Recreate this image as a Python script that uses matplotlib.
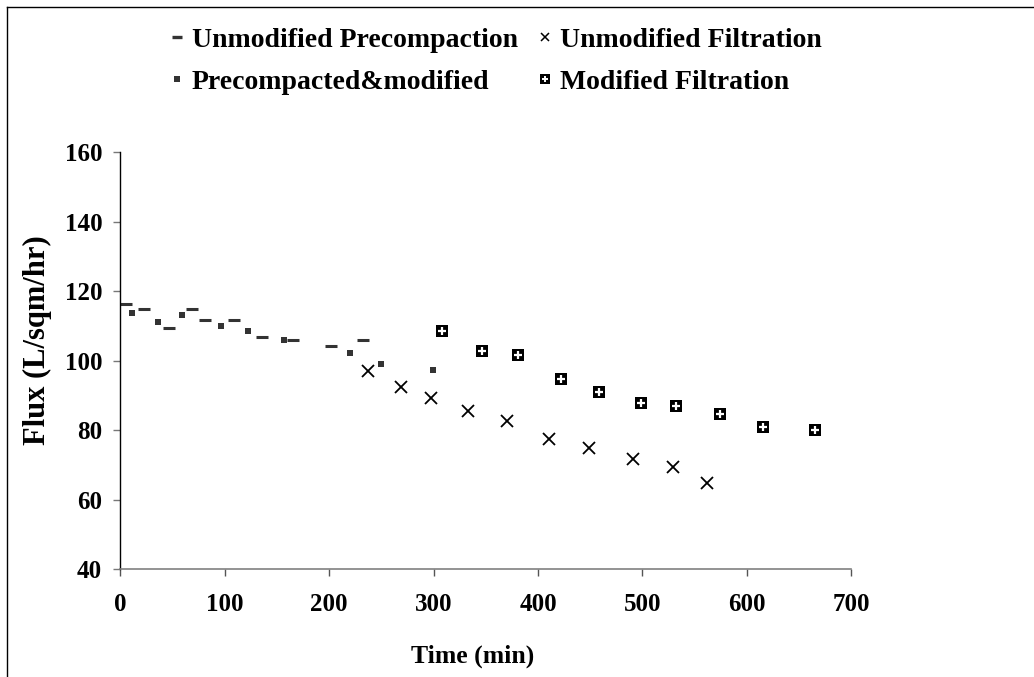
import matplotlib
matplotlib.use('Agg')

import matplotlib.pyplot as plt
from matplotlib.lines import Line2D
from matplotlib.legend_handler import HandlerTuple

plt.rcParams['font.family'] = ['Liberation Serif', 'DejaVu Serif']
plt.rcParams['font.weight'] = 'bold'

# data
unmod_pre_t = [5.5, 23, 47, 69, 81, 109, 135.5, 165, 202, 232]
unmod_pre_flux = [116.4, 114.8, 109.5, 114.8, 111.7, 111.7, 106.9, 105.9, 104.3, 105.9]

premod_t = [11.5, 36, 59, 96, 122, 157, 220, 250, 299]
premod_flux = [113.8, 111.1, 113.3, 110.1, 108.5, 105.9, 102.2, 99.0, 97.4]

unmod_filt_t = [237, 268.5, 298, 333, 370, 410.5, 449, 491, 529.5, 561.5]
unmod_filt_flux = [97.2, 92.4, 89.2, 85.5, 82.8, 77.6, 74.8, 71.7, 69.5, 64.7]

mod_filt_t = [308.5, 346.5, 381, 422, 458.5, 499, 532.5, 574.5, 615, 665.5]
mod_filt_flux = [108.6, 102.8, 101.8, 94.8, 90.9, 87.8, 87.0, 84.7, 81.0, 80.1]

xticks = [0, 100, 200, 300, 400, 500, 600, 700]
yticks = [40, 60, 80, 100, 120, 140, 160]

W, H = 1034, 677
fig = plt.figure(figsize=(W / 100, H / 100), dpi=100)
ax = fig.add_axes([120.3 / W, 1 - 569.3 / H, (851.3 - 120.3) / W, (569.3 - 152.3) / H])

dark = '#333333'
ax.plot(unmod_pre_t, unmod_pre_flux, ls='none', marker='_', ms=8.9, mew=2.2,
        color=dark, clip_on=False)
ax.plot(premod_t, premod_flux, ls='none', marker='s', ms=5, mew=0,
        color=dark, clip_on=False)
ax.plot(unmod_filt_t, unmod_filt_flux, ls='none', marker='x', ms=9, mew=1.3,
        color='black')
ax.plot(mod_filt_t, mod_filt_flux, ls='none', marker='s', ms=9, mew=0,
        color='black')
ax.plot(mod_filt_t, mod_filt_flux, ls='none', marker='+', ms=5.5, mew=1.6,
        color='white')

ax.set_xlim(0, 700)
ax.set_ylim(40, 160)
ax.set_xticks(xticks)
ax.set_yticks(yticks)
ax.tick_params(axis='both', direction='out', length=5, width=1,
               labelsize=18)
ax.tick_params(axis='x', colors='#555555', labelcolor='black', pad=12)
ax.tick_params(axis='y', colors='#777777', labelcolor='black', pad=8)
for lab in ax.get_xticklabels() + ax.get_yticklabels():
    lab.set_fontweight('bold')

ax.spines['top'].set_visible(False)
ax.spines['right'].set_visible(False)
ax.spines['left'].set_color('black')
ax.spines['left'].set_linewidth(1)
ax.spines['bottom'].set_color('#808080')
ax.spines['bottom'].set_linewidth(1.2)

ax.set_xlabel('Time (min)', fontsize=18.5, fontweight='bold')
ax.xaxis.set_label_coords((472.5 - 120.3) / (851.3 - 120.3), -(656 - 569.3) / (569.3 - 152.3))
ax.xaxis.label.set_va('center')
ax.set_ylabel('Flux (L/sqm/hr)', fontsize=22, fontweight='bold')
ax.yaxis.set_label_coords(-(120.3 - 37) / (851.3 - 120.3), (569.3 - 340) / (569.3 - 152.3))
ax.yaxis.label.set_va('center')

# legend with small markers like the original
h1 = Line2D([], [], ls='none', marker='_', ms=6.5, mew=2.4, color=dark)
h2 = Line2D([], [], ls='none', marker='s', ms=4.2, mew=0, color=dark)
h3 = Line2D([], [], ls='none', marker='x', ms=6, mew=1.1, color='black')
h4a = Line2D([], [], ls='none', marker='s', ms=7.8, mew=0, color='black')
h4b = Line2D([], [], ls='none', marker='+', ms=4.8, mew=1.4, color='white')
fig.legend([h1, h2, h3, (h4a, h4b)],
           ['Unmodified Precompaction', 'Precompacted&modified',
            'Unmodified Filtration', 'Modified Filtration'],
           handler_map={tuple: HandlerTuple(ndivide=1)},
           loc='upper left', bbox_to_anchor=(168.6 / W, 1 - 27.5 / H),
           ncol=2, frameon=False, borderpad=0, borderaxespad=0,
           handlelength=0.6, handletextpad=0.24, columnspacing=0.67,
           labelspacing=0.6, prop={'size': 20, 'weight': 'bold'})

# outer frame (top and left edges only)
fig.add_artist(Line2D([7 / W, 7 / W], [0, 1 - 7 / H], color='black', lw=1))
fig.add_artist(Line2D([7 / W, 1], [1 - 7 / H, 1 - 7 / H], color='black', lw=1))

fig.savefig('out.png', dpi=100)
